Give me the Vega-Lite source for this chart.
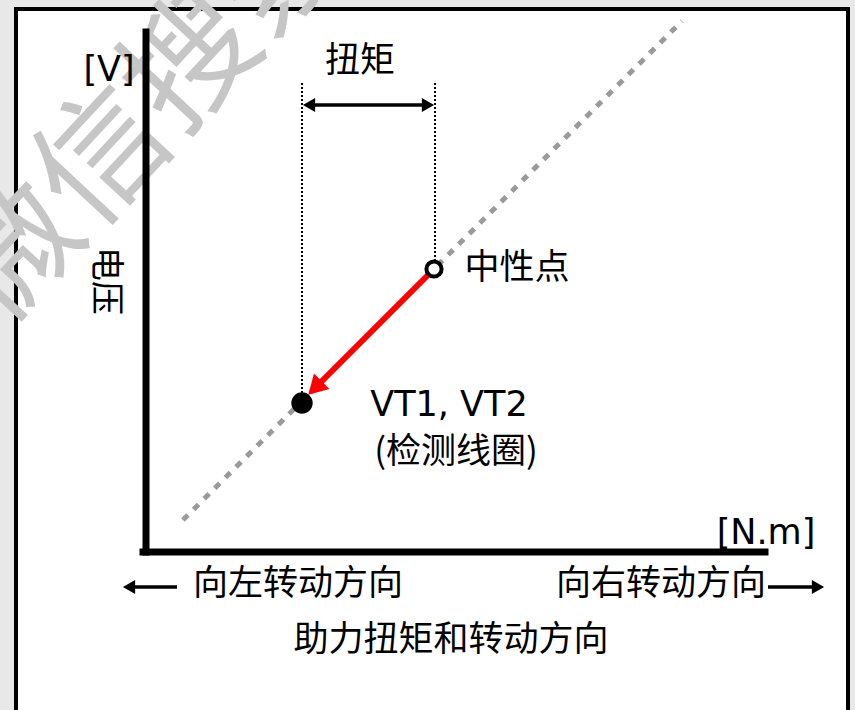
{
  "$schema": "https://vega.github.io/schema/vega-lite/v6.json",
  "width": 855,
  "height": 710,
  "autosize": {"type": "none"},
  "padding": 0,
  "background": "#e8e8e8",
  "config": {"view": {"stroke": null}, "axis": {"disable": true}},
  "datasets": {
    "frame": [{"x": 16, "y": 9, "x2": 848, "y2": 740}],
    "watermark": [{"x": 150, "y": 112, "text": "微信搜索"}],
    "axes": [
      {"x": 146, "y": 32, "x2": 146, "y2": 552},
      {"x": 143, "y": 552, "x2": 765, "y2": 552}
    ],
    "diagonal": [{"x": 183, "y": 520, "x2": 682, "y2": 21}],
    "guides": [
      {"x": 302, "y": 83, "x2": 302, "y2": 398},
      {"x": 435, "y": 83, "x2": 435, "y2": 262}
    ],
    "arrowlines": [
      {"x": 308, "y": 105, "x2": 429, "y2": 105},
      {"x": 130, "y": 587, "x2": 177, "y2": 587},
      {"x": 768, "y": 587, "x2": 817, "y2": 587}
    ],
    "heads_left": [{"x": 309, "y": 105}, {"x": 129, "y": 587}],
    "heads_right": [{"x": 428, "y": 105}, {"x": 818, "y": 587}],
    "torque": [{"x": 430, "y": 273, "x2": 318, "y2": 385}],
    "torquehead": [{"x": 315, "y": 388}],
    "neutral": [{"x": 434, "y": 269}],
    "coil": [{"x": 302, "y": 403}],
    "cjk": [
      {"x": 360, "y": 61, "text": "扭矩"},
      {"x": 517, "y": 268, "text": "中性点"},
      {"x": 298, "y": 584, "text": "向左转动方向"},
      {"x": 661, "y": 584, "text": "向右转动方向"},
      {"x": 451, "y": 640, "text": "助力扭矩和转动方向"},
      {"x": 456, "y": 452, "text": "(检测线圈)"}
    ],
    "latin": [
      {"x": 449, "y": 405, "text": "VT1, VT2"},
      {"x": 109, "y": 70, "text": "[V]"},
      {"x": 766, "y": 533, "text": "[N.m]"}
    ],
    "vertical": [{"x": 105, "y": 281, "text": "电压"}]
  },
  "encoding": {
    "x": {"field": "x", "type": "quantitative", "scale": {"domain": [0, 855], "nice": false, "zero": false}},
    "y": {"field": "y", "type": "quantitative", "scale": {"domain": [0, 710], "nice": false, "zero": false, "reverse": true}}
  },
  "layer": [
    {
      "data": {"name": "frame"},
      "mark": {"type": "rect", "fill": "white", "stroke": "black", "strokeWidth": 4},
      "encoding": {"x2": {"field": "x2"}, "y2": {"field": "y2"}}
    },
    {
      "data": {"name": "watermark"},
      "mark": {"type": "text", "font": "Noto Sans CJK SC", "fontSize": 130, "fill": "#c6c6c6", "angle": -47, "align": "center", "baseline": "middle"},
      "encoding": {"text": {"field": "text"}}
    },
    {
      "data": {"name": "diagonal"},
      "mark": {"type": "rule", "stroke": "#9a9a9a", "strokeWidth": 5, "strokeDash": [7, 8]},
      "encoding": {"x2": {"field": "x2"}, "y2": {"field": "y2"}}
    },
    {
      "data": {"name": "axes"},
      "mark": {"type": "rule", "stroke": "black", "strokeWidth": 7, "strokeCap": "square"},
      "encoding": {"x2": {"field": "x2"}, "y2": {"field": "y2"}}
    },
    {
      "data": {"name": "guides"},
      "mark": {"type": "rule", "stroke": "black", "strokeWidth": 2, "strokeDash": [2, 2]},
      "encoding": {"x2": {"field": "x2"}, "y2": {"field": "y2"}}
    },
    {
      "data": {"name": "arrowlines"},
      "mark": {"type": "rule", "stroke": "black", "strokeWidth": 3.5},
      "encoding": {"x2": {"field": "x2"}, "y2": {"field": "y2"}}
    },
    {
      "data": {"name": "heads_left"},
      "mark": {"type": "point", "shape": "triangle-left", "filled": true, "fill": "black", "size": 200, "opacity": 1, "strokeWidth": 0}
    },
    {
      "data": {"name": "heads_right"},
      "mark": {"type": "point", "shape": "triangle-right", "filled": true, "fill": "black", "size": 200, "opacity": 1, "strokeWidth": 0}
    },
    {
      "data": {"name": "torque"},
      "mark": {"type": "rule", "stroke": "#ff0000", "strokeWidth": 6},
      "encoding": {"x2": {"field": "x2"}, "y2": {"field": "y2"}}
    },
    {
      "data": {"name": "torquehead"},
      "mark": {"type": "point", "shape": "triangle-up", "angle": 225, "filled": true, "fill": "#ff0000", "size": 480, "opacity": 1, "strokeWidth": 0}
    },
    {
      "data": {"name": "neutral"},
      "mark": {"type": "point", "shape": "circle", "filled": false, "fill": "white", "fillOpacity": 1, "stroke": "black", "strokeWidth": 4, "size": 230, "opacity": 1}
    },
    {
      "data": {"name": "coil"},
      "mark": {"type": "point", "shape": "circle", "filled": true, "fill": "black", "size": 460, "opacity": 1, "strokeWidth": 0}
    },
    {
      "data": {"name": "cjk"},
      "mark": {"type": "text", "font": "Noto Sans CJK SC", "fontSize": 35, "fill": "black", "align": "center", "baseline": "middle"},
      "encoding": {"text": {"field": "text"}}
    },
    {
      "data": {"name": "latin"},
      "mark": {"type": "text", "font": "DejaVu Sans", "fontSize": 35, "fill": "black", "align": "center", "baseline": "middle"},
      "encoding": {"text": {"field": "text"}}
    },
    {
      "data": {"name": "vertical"},
      "mark": {"type": "text", "font": "Noto Sans CJK SC", "fontSize": 34, "fill": "black", "angle": 90, "align": "center", "baseline": "middle"},
      "encoding": {"text": {"field": "text"}}
    }
  ]
}
